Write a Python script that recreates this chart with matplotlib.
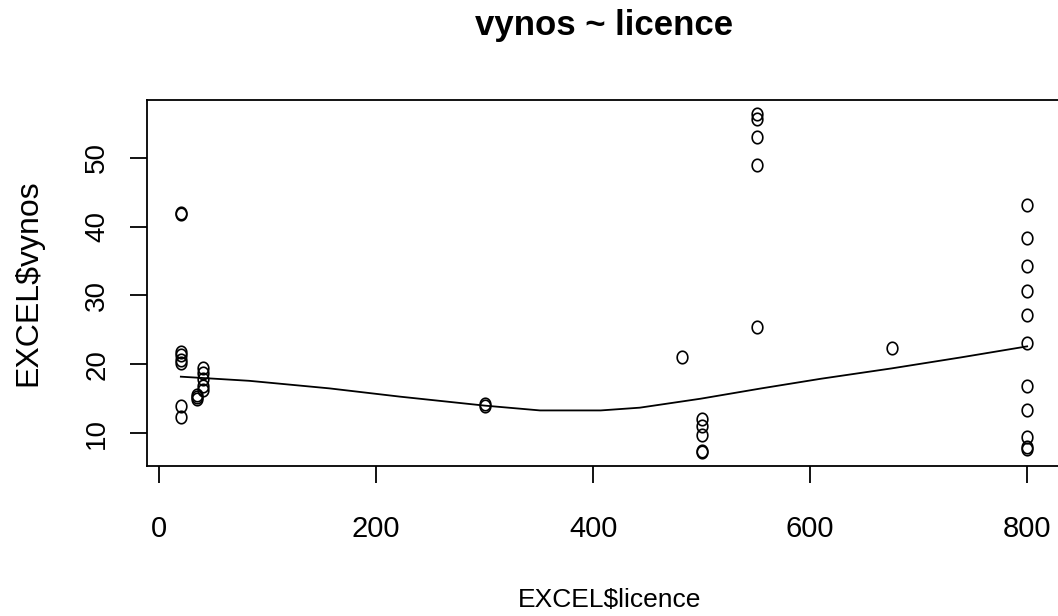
import numpy as np
import matplotlib.pyplot as plt
from matplotlib.path import Path

plt.rcParams['font.family'] = ['Liberation Sans', 'DejaVu Sans']

# values
licence = [20, 20, 20, 20, 20, 20, 20, 20,
           35, 35, 35,
           40, 40, 40, 40, 40,
           300, 300,
           482,
           500, 500, 500, 500, 500,
           551, 551, 551, 551, 551,
           675,
           800, 800, 800, 800, 800, 800, 800, 800, 800, 800, 800]
vynos = [41.8, 42.0, 21.8, 21.3, 20.6, 20.2, 14.0, 12.3,
         15.6, 15.2, 14.9,
         19.5, 18.7, 17.8, 16.8, 16.2,
         14.3, 13.9,
         21.1,
         12.1, 11.1, 9.7, 7.4, 7.2,
         56.4, 55.6, 53.0, 49.0, 25.4,
         22.3,
         43.1, 38.3, 34.2, 30.6, 27.2, 23.1, 16.8, 13.3, 9.5, 8.0, 7.7]

# smoother line
smooth_x = [20, 83, 157, 222, 300, 351, 407, 443, 499, 555, 610, 675, 739, 800]
smooth_y = [18.2, 17.6, 16.5, 15.3, 14.0, 13.3, 13.3, 13.7, 15.0, 16.5, 17.9, 19.4, 21.0, 22.6]

xticks = [0, 200, 400, 600, 800]
yticks = [10, 20, 30, 40, 50]

# circle slightly taller than wide, as in the screenshot
t = np.linspace(0, 2 * np.pi, 60)
ellipse = Path(np.column_stack([np.cos(t) * 0.85, np.sin(t)]), closed=True)

fig = plt.figure(figsize=(10.58, 6.16), dpi=100)
W, H = 1058, 616
ax = fig.add_axes([147 / W, (H - 466) / H, (1061 - 147) / W, (466 - 100) / H])

ax.plot(licence, vynos, linestyle='none', marker=ellipse, markersize=9,
        markerfacecolor='none', markeredgecolor='black', markeredgewidth=1.2)
ax.plot(smooth_x, smooth_y, color='black', linewidth=1.3)

# R style 4% padding
xr = max(licence) - min(licence)
yr = max(vynos) - min(vynos)
ax.set_xlim(min(licence) - 0.04 * xr, max(licence) + 0.04 * xr)
ax.set_ylim(min(vynos) - 0.04 * yr, max(vynos) + 0.04 * yr)

ax.set_xticks(xticks)
ax.set_yticks(yticks)
ax.set_yticklabels([str(v) for v in yticks], rotation=90, va='center')
ax.tick_params(axis='both', direction='out', length=12.5, width=1.3)
ax.tick_params(axis='x', labelsize=21, pad=23)
ax.tick_params(axis='y', labelsize=20, pad=14)
for s in ax.spines.values():
    s.set_linewidth(1.3)

fig.text(610 / W, 1 - 600 / H, 'EXCEL$licence', fontsize=19,
         ha='center', va='center')
fig.text(28 / W, 1 - 283 / H, 'EXCEL$vynos', fontsize=23, rotation=90,
         ha='center', va='center')
fig.text(604 / W, 1 - 26 / H, 'vynos ~ licence', fontsize=25,
         fontweight='bold', ha='center', va='center')

fig.savefig('out.png', dpi=100)
